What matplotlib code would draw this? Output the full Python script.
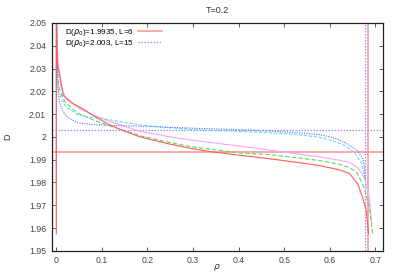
import numpy as np
import matplotlib
matplotlib.use("Agg")
import matplotlib.pyplot as plt
from matplotlib.ticker import FormatStrFormatter, MultipleLocator

plt.rcParams.update({
    "font.family": ["Liberation Sans", "DejaVu Sans"],
    "font.size": 6.5,
    "mathtext.fontset": "dejavusans",
})

# curves D(rho) for several sizes
rho_red = [0.0, 0.0, 0.001, 0.003, 0.008, 0.015, 0.02, 0.037, 0.048, 0.063, 0.08, 0.1, 0.118, 0.15, 0.184,
           0.25, 0.3, 0.34, 0.4, 0.468, 0.53, 0.578, 0.62, 0.643, 0.661, 0.672, 0.68, 0.685]
D_red = [1.9575, 2.06, 2.042, 2.031, 2.027, 2.0184, 2.0172, 2.0145, 2.0134, 2.0117, 2.0095, 2.0072, 2.0052,
         2.0025, 2.0, 1.9968, 1.9948, 1.9935, 1.992, 1.9904, 1.9888, 1.9874, 1.9856, 1.984, 1.9795, 1.9734,
         1.9676, 1.9575]

rho_green = [0.0, 0.002, 0.005, 0.012, 0.02, 0.048, 0.08, 0.118, 0.184, 0.25, 0.3, 0.4, 0.468, 0.53, 0.578,
             0.62, 0.643, 0.661, 0.676, 0.687, 0.694]
D_green = [2.06, 2.032, 2.022, 2.0185, 2.015, 2.0103, 2.0075, 2.0048, 2.0005, 1.9975, 1.9956, 1.993, 1.9922,
           1.9908, 1.9896, 1.988, 1.9866, 1.984, 1.9773, 1.969, 1.9575]

rho_pink = [0.0, 0.002, 0.005, 0.01, 0.02, 0.048, 0.08, 0.118, 0.184, 0.25, 0.3, 0.4, 0.468, 0.53, 0.578,
            0.62, 0.643, 0.661, 0.676, 0.686, 0.692]
D_pink = [2.06, 2.04, 2.03, 2.022, 2.0175, 2.0128, 2.0097, 2.0068, 2.0024, 2.0, 1.9985, 1.996, 1.9942,
          1.9925, 1.9912, 1.9898, 1.9888, 1.9866, 1.9822, 1.974, 1.962]

rho_cyan = [0.0, 0.002, 0.005, 0.012, 0.02, 0.048, 0.08, 0.118, 0.184, 0.25, 0.3, 0.4, 0.468, 0.53, 0.578,
            0.61, 0.632, 0.654, 0.67, 0.678]
D_cyan = [2.06, 2.03, 2.02, 2.0165, 2.0135, 2.0095, 2.0085, 2.0075, 2.0052, 2.004, 2.0032, 2.0024, 2.0018,
          2.001, 1.9998, 1.998, 1.9963, 1.9932, 1.9883, 1.981]

rho_blue = [0.0, 0.0, 0.002, 0.004, 0.008, 0.015, 0.025, 0.048, 0.08, 0.118, 0.184, 0.25, 0.3, 0.4, 0.468,
            0.53, 0.578, 0.61, 0.632, 0.661, 0.672, 0.676, 0.678]
D_blue = [1.981, 2.06, 2.03, 2.02, 2.0145, 2.011, 2.0085, 2.0062, 2.0054, 2.005, 2.0047, 2.0042, 2.0038,
          2.0032, 2.0026, 2.0018, 2.001, 1.9995, 1.9976, 1.994, 1.9905, 1.987, 1.981]

# D(rho_0) markers
D0_L6, rho0_L6 = 1.9935, 0.683
D0_L15, rho0_L15 = 2.003, 0.678
labels = [r"D($\rho_0$)=1.9935, L=6", r"D($\rho_0$)=2.003, L=15"]

fig = plt.figure(figsize=(3.95, 2.76), dpi=100)
ax = fig.add_axes([0.131, 0.091, 0.839, 0.826])

ref_red = "#ff9a9a"
ref_blue = "#9090ff"
l1 = ax.axhline(D0_L6, color=ref_red, lw=1.2)
ax.axvline(rho0_L6, color=ref_red, lw=1.2)
l2 = ax.axhline(D0_L15, color=ref_blue, lw=0.9, ls=(0, (1.2, 1.2)))
ax.axvline(rho0_L15, color=ref_blue, lw=0.9, ls=(0, (1.2, 1.2)))

ax.plot(rho_pink, D_pink, color="#ffa0ff", lw=0.8)
ax.plot(rho_green, D_green, color="#58dc58", lw=0.8, ls=(0, (4, 2)))
ax.plot(rho_cyan, D_cyan, color="#58e4e4", lw=0.8, ls=(0, (3, 1.5)))
ax.plot(rho_blue, D_blue, color="#6464ff", lw=0.8, ls=(0, (1, 1.2)))
ax.plot(rho_red, D_red, color="#ff5a5a", lw=0.8)

ax.set_xlim(-0.01, 0.717)
ax.set_ylim(1.95, 2.05)
ax.xaxis.set_major_locator(MultipleLocator(0.1))
ax.yaxis.set_major_locator(MultipleLocator(0.01))
ax.xaxis.set_major_formatter(FormatStrFormatter("%g"))
ax.yaxis.set_major_formatter(FormatStrFormatter("%g"))
ax.tick_params(direction="in", top=True, right=True, length=3, width=0.6,
               colors="#444444", labelsize=6.3, pad=4)
for s in ax.spines.values():
    s.set_color("#222222")
    s.set_linewidth(0.9)

ax.set_title("T=0.2", fontsize=6.5, color="#333333", pad=7)
fig.text(0.55, 0.03, r"$\rho$", fontsize=6.5, color="#333333", ha="center", va="center")
ax.set_ylabel("D", fontsize=6.5, color="#333333", labelpad=12)

ax.legend([l1, l2], labels, loc="upper left", bbox_to_anchor=(0.025, 1.005),
          frameon=False, markerfirst=False, handlelength=3.0, handletextpad=0.5,
          labelspacing=0.05, fontsize=5.8, borderaxespad=0.2)

fig.savefig("out.png", dpi=100)
